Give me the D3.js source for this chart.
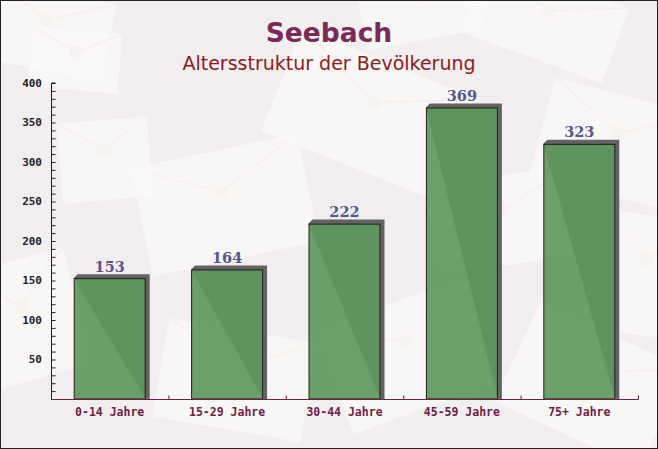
<!DOCTYPE html>
<html>
<head>
<meta charset="utf-8">
<script src="https://cdn.jsdelivr.net/npm/d3@7/dist/d3.min.js"></script>
<style>
html,body{margin:0;padding:0;background:#fff;}
svg{display:block;}
</style>
</head>
<body>
<svg id="chart" width="658" height="449"></svg>
<script>
const categories = ["0-14 Jahre", "15-29 Jahre", "30-44 Jahre", "45-59 Jahre", "75+ Jahre"];
const values = [153, 164, 222, 369, 323];
const yTicks = [50, 100, 150, 200, 250, 300, 350, 400];
const title = "Seebach";
const subtitle = "Altersstruktur der Bevölkerung";

const W = 658, H = 449;
const svg = d3.select("#chart");

// background
svg.append("rect").attr("width", W).attr("height", H).attr("fill", "#f2eef0");
// decorative envelopes (background only)
const env = [
  [-20, -10, 130, 80, 12], [140, 150, 170, 110, -12], [275, 60, 190, 110, 22],
  [470, -20, 150, 80, 20], [540, 95, 150, 100, 15], [430, 175, 150, 90, -8],
  [590, 215, 110, 120, 8], [-30, 260, 110, 120, -15], [60, 120, 90, 80, -5],
  [330, 300, 160, 110, -20], [160, 330, 150, 100, 10], [510, 330, 160, 110, 25],
  [30, 30, 90, 60, 5], [360, -30, 120, 70, -10]
];
const envG = svg.append("g");
env.forEach(e => {
  const g = envG.append("g").attr("transform", `translate(${e[0] + e[2] / 2},${e[1] + e[3] / 2}) rotate(${e[4]})`);
  g.append("rect").attr("x", -e[2] / 2).attr("y", -e[3] / 2).attr("width", e[2]).attr("height", e[3])
    .attr("fill", "#fbf9f8").attr("opacity", 0.75);
  g.append("path").attr("d", `M${-e[2] / 2},${-e[3] / 2} L0,${-e[3] / 8} L${e[2] / 2},${-e[3] / 2}`)
    .attr("fill", "none").attr("stroke", "#f3eceb").attr("stroke-width", 1);
  g.append("circle").attr("cx", 0).attr("cy", -e[3] / 8).attr("r", 7).attr("fill", "#f6efee").attr("opacity", 0.6);
});

const pL = 51, pR = 638, pT = 83, pB = 399;
const x = d3.scaleBand().domain(categories).range([pL, pR]).paddingInner(0.387).paddingOuter(0.1935);
const y = d3.scaleLinear().domain([0, 400]).range([pB, pT]);

// titles
svg.append("text").attr("x", 329).attr("y", 42).attr("text-anchor", "middle")
  .attr("font-family", "'DejaVu Sans',sans-serif").attr("font-weight", "bold")
  .attr("font-size", 26.5).attr("fill", "#7a2a57").text(title);
svg.append("text").attr("x", 329).attr("y", 70).attr("text-anchor", "middle")
  .attr("font-family", "'DejaVu Sans',sans-serif")
  .attr("font-size", 19).attr("fill", "#8b1c1c").text(subtitle);

// bars with 3D shadow
const dep = 4;
const bars = svg.append("g");
categories.forEach((c, i) => {
  const x0 = x(c), x1 = x(c) + x.bandwidth(), yt = y(values[i]), yb = y(0);
  bars.append("path")
    .attr("d", `M${x0},${yt} L${x0 + dep},${yt - dep} L${x1 + dep},${yt - dep} L${x1 + dep},${yb} L${x1},${yb} Z`)
    .attr("fill", "#636363");
  bars.append("rect").attr("x", x0 + 0.5).attr("y", yt + 0.5).attr("width", x.bandwidth() - 1).attr("height", yb - yt - 0.5)
    .attr("fill", "#5f985e").attr("fill-opacity", 0.92).attr("stroke", "#1e1e1e").attr("stroke-width", 1);
  bars.append("text").attr("x", x0 + x.bandwidth() / 2).attr("y", yt - 6.5).attr("text-anchor", "middle")
    .attr("font-family", "'DejaVu Serif',serif").attr("font-weight", "bold").attr("font-size", 14.5)
    .attr("fill", "#55578c").text(values[i]);
});

// y axis
const yAxis = d3.axisRight(y).tickValues(d3.range(0, 401, 10)).tickSize(4).tickFormat("");
const yg = svg.append("g").attr("transform", `translate(${pL + 0.5},0)`).call(yAxis);
yg.select(".domain").attr("stroke", "#222").attr("d", `M4,${pT}H0V${pB}`);
yg.selectAll(".tick line").attr("stroke", "#222");
yg.selectAll(".tick").filter(d => d === 0).remove();
svg.append("g").selectAll("text").data(yTicks).join("text")
  .attr("x", 42).attr("y", d => y(d)).attr("dy", "0.35em").attr("text-anchor", "end")
  .attr("font-family", "'DejaVu Sans Mono',monospace").attr("font-weight", "bold").attr("font-size", 11)
  .attr("fill", "#222").text(d => d);

// x axis
const xg = svg.append("g").attr("transform", `translate(0,${pB + 0.5})`);
xg.append("line").attr("x1", pL).attr("x2", pR + 0.5).attr("y1", 0).attr("y2", 0).attr("stroke", "#6b2244");
const bounds = categories.map((c, i) => x(c) + x.bandwidth() + x.step() * 0.1935 + 0.5);
xg.selectAll("line.t").data(bounds).join("line").attr("class", "t")
  .attr("x1", d => d).attr("x2", d => d).attr("y1", 0).attr("y2", -4).attr("stroke", "#6b2244");
xg.selectAll("text").data(categories).join("text")
  .attr("x", d => x(d) + x.bandwidth() / 2).attr("y", 16.5).attr("text-anchor", "middle")
  .attr("font-family", "'DejaVu Sans Mono',monospace").attr("font-weight", "bold").attr("font-size", 11.5)
  .attr("fill", "#6b1f45").text(d => d);

// frame
svg.append("rect").attr("x", 0.5).attr("y", 0.5).attr("width", W - 1).attr("height", H - 1)
  .attr("fill", "none").attr("stroke", "#222");
</script>
</body>
</html>
